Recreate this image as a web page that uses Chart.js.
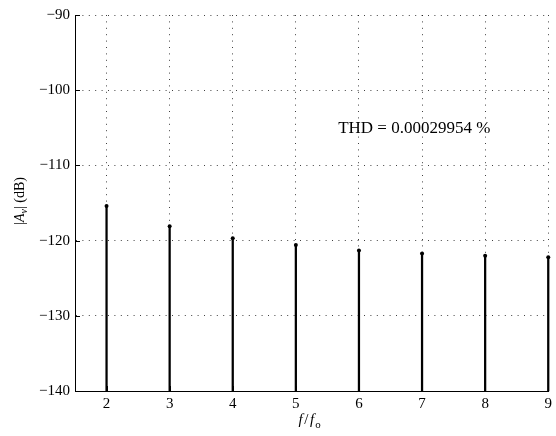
<!DOCTYPE html>
<html>
<head>
<meta charset="utf-8">
<script src="https://cdn.jsdelivr.net/npm/chart.js@4.4.1/dist/chart.umd.min.js"></script>
<style>
  html, body { margin: 0; padding: 0; background: #fff; }
  #wrap { width: 556px; height: 436px; }
</style>
</head>
<body>
<div id="wrap"><canvas id="c" width="556" height="436"></canvas></div>
<script>
// Harmonic orders (f / fo) and their levels |Av| in dB
const harmonics = [2, 3, 4, 5, 6, 7, 8, 9];
const levelsDb = [-115.4, -118.1, -119.7, -120.6, -121.3, -121.7, -122.0, -122.2];
const stemBase = -140;

// Axis limits and tick values
const xTicks = [2, 3, 4, 5, 6, 7, 8, 9];
const xRange = [1.5, 9];
const yTicks = [-140, -130, -120, -110, -100, -90];
const yRange = [-140, -90];

// Annotation
const thdText = 'THD = 0.00029954 %';
const thdPos = { x: 5.67, y: -105 };

const FONT = '"Liberation Serif", "Times New Roman", serif';
const GRID_DASH = [1, 5.4];

const stems = harmonics.map((h, i) => ({ x: h, y: [stemBase, levelsDb[i]] }));
const tips = harmonics.map((h, i) => ({ x: h, y: levelsDb[i] }));

// Inside tick marks, text annotation and axis titles with subscripts
const decor = {
  id: 'decor',
  afterDatasetsDraw(chart) {
    const { ctx, chartArea: a, scales: { x, y } } = chart;
    ctx.save();
    // inward tick marks
    ctx.strokeStyle = '#000';
    ctx.lineWidth = 1;
    ctx.beginPath();
    yTicks.forEach(v => {
      const py = Math.round(y.getPixelForValue(v)) + 0.5;
      ctx.moveTo(a.left, py); ctx.lineTo(a.left + 5, py);
    });
    xTicks.forEach(v => {
      const px = Math.round(x.getPixelForValue(v)) + 0.5;
      ctx.moveTo(px, a.bottom); ctx.lineTo(px, a.bottom - 5);
    });
    ctx.stroke();

    // THD annotation
    ctx.fillStyle = '#000';
    ctx.font = '17px ' + FONT;
    ctx.textAlign = 'left';
    ctx.textBaseline = 'alphabetic';
    ctx.fillText(thdText, x.getPixelForValue(thdPos.x), y.getPixelForValue(thdPos.y) + 5.6);

    // y-axis title: |A_v| (dB), rotated
    ctx.save();
    ctx.translate(24, (a.top + a.bottom) / 2 - 2);
    ctx.rotate(-Math.PI / 2);
    const parts = [
      { t: '|', f: '14px ' + FONT, dy: 0 },
      { t: 'A', f: 'italic 14px ' + FONT, dy: 0 },
      { t: 'v', f: 'italic 10px ' + FONT, dy: 3 },
      { t: '| (dB)', f: '14px ' + FONT, dy: 0 }
    ];
    let total = 0;
    parts.forEach(p => { ctx.font = p.f; p.w = ctx.measureText(p.t).width; total += p.w; });
    let cx = -total / 2;
    parts.forEach(p => { ctx.font = p.f; ctx.fillText(p.t, cx, p.dy); cx += p.w; });
    ctx.restore();

    // x-axis title: f / f_o
    const xp = [
      { t: 'f', f: 'italic 15px ' + FONT, dy: 0, gap: 1.5 },
      { t: '/', f: '15px ' + FONT, dy: 0, gap: 1.5 },
      { t: 'f', f: 'italic 15px ' + FONT, dy: 0, gap: 1 },
      { t: 'o', f: '11px ' + FONT, dy: 4, gap: 0 }
    ];
    let tw = 0;
    xp.forEach(p => { ctx.font = p.f; p.w = ctx.measureText(p.t).width; tw += p.w + p.gap; });
    let sx = (a.left + a.right) / 2 - 2 - tw / 2;
    const base = a.bottom + 33;
    xp.forEach(p => { ctx.font = p.f; ctx.fillText(p.t, sx, base + p.dy); sx += p.w + p.gap; });
    ctx.restore();
  }
};

new Chart(document.getElementById('c'), {
  type: 'bar',
  data: {
    datasets: [
      {
        type: 'bar',
        data: stems,
        backgroundColor: '#000',
        borderWidth: 0,
        barThickness: 1.6,
        clip: 6,
        order: 2
      },
      {
        type: 'scatter',
        data: tips,
        pointRadius: 2,
        pointBackgroundColor: '#000',
        pointBorderColor: '#000',
        pointBorderWidth: 0,
        clip: 6,
        order: 1
      }
    ]
  },
  options: {
    responsive: false,
    animation: false,
    devicePixelRatio: 1,
    layout: { padding: { top: 15, right: 4, left: 0, bottom: 0 } },
    plugins: { legend: { display: false }, tooltip: { enabled: false } },
    scales: {
      x: {
        type: 'linear',
        min: xRange[0],
        max: xRange[1],
        offset: false,
        afterBuildTicks: s => { s.ticks = xTicks.map(v => ({ value: v })); },
        afterFit: s => { s.height = 45; },
        grid: { color: 'rgba(0,0,0,0.75)', lineWidth: 1, drawTicks: false, offset: false },
        border: { display: true, color: '#000', width: 1, dash: GRID_DASH },
        ticks: {
          color: '#000',
          padding: 4,
          maxRotation: 0,
          font: { family: FONT, size: 15 },
          callback: v => String(v)
        }
      },
      y: {
        type: 'linear',
        min: yRange[0],
        max: yRange[1],
        afterBuildTicks: s => { s.ticks = yTicks.map(v => ({ value: v })); },
        afterFit: s => { s.width = 75; },
        grid: { color: 'rgba(0,0,0,0.75)', lineWidth: 1, drawTicks: false },
        border: { display: true, color: '#000', width: 1, dash: GRID_DASH },
        ticks: {
          color: '#000',
          padding: 5,
          font: { family: FONT, size: 15 },
          callback: v => String(v).replace('-', '\u2212')
        }
      }
    }
  },
  plugins: [decor]
});
</script>
</body>
</html>
